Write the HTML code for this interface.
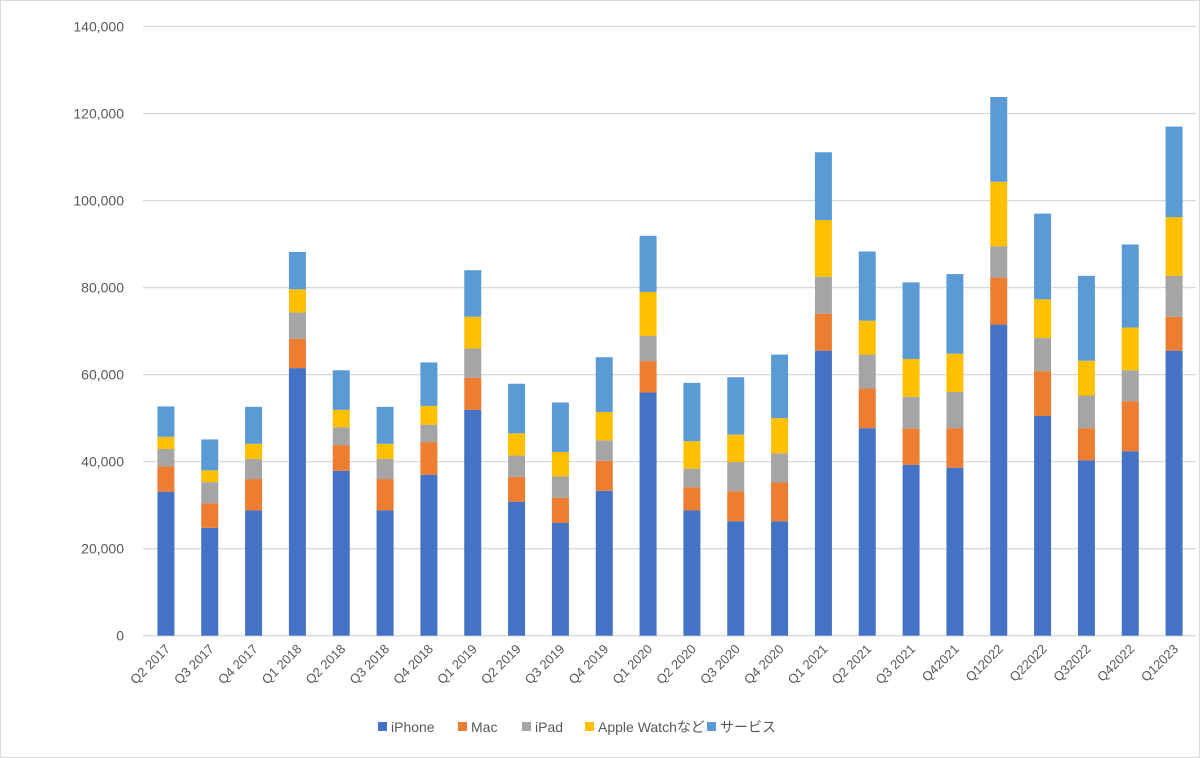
<!DOCTYPE html>
<html><head><meta charset="utf-8"><style>
html,body{margin:0;padding:0;background:#fff;}
svg{display:block;font-family:"Liberation Sans","Noto Sans CJK JP",sans-serif;}
</style></head><body>
<svg id="chart" width="1200" height="758" viewBox="0 0 1200 758">
<rect x="0.5" y="0.5" width="1199" height="757" fill="#fff" stroke="#d9d9d9"/>
<g id="grid"></g>
<g id="yt"></g>
<g id="bars"></g>
<g id="xt"></g>
<g id="legend"></g>
</svg>
<script>
const categories=["Q2 2017","Q3 2017","Q4 2017","Q1 2018","Q2 2018","Q3 2018","Q4 2018","Q1 2019","Q2 2019","Q3 2019","Q4 2019","Q1 2020","Q2 2020","Q3 2020","Q4 2020","Q1 2021","Q2 2021","Q3 2021","Q42021","Q12022","Q22022","Q32022","Q42022","Q12023"];
const iphone=[33.1,24.8,28.8,61.5,37.9,28.8,37.0,51.9,30.8,25.9,33.3,55.9,28.8,26.3,26.3,65.5,47.7,39.3,38.6,71.5,50.5,40.3,42.4,65.5];
const mac=[5.8,5.6,7.2,6.7,5.9,7.2,7.5,7.4,5.7,5.8,6.9,7.2,5.3,6.9,8.9,8.5,9.1,8.3,9.1,10.8,10.3,7.4,11.5,7.8];
const ipad=[4.0,4.9,4.6,6.1,4.1,4.6,4.0,6.7,4.9,4.9,4.7,5.8,4.3,6.7,6.7,8.5,7.8,7.3,8.3,7.2,7.6,7.5,7.1,9.4];
const watch=[2.8,2.7,3.5,5.3,4.0,3.5,4.3,7.3,5.1,5.6,6.5,10.1,6.3,6.3,8.1,13.0,7.8,8.7,8.8,14.8,8.9,8.0,9.8,13.5];
const services=[7.0,7.1,8.5,8.6,9.1,8.5,10.0,10.7,11.4,11.4,12.6,12.9,13.4,13.2,14.6,15.6,15.9,17.6,18.3,19.5,19.7,19.5,19.1,20.8];
const seriesNames=["iPhone","Mac","iPad","Apple Watchなど","サービス"];
const yTicks=[0,20000,40000,60000,80000,100000,120000,140000];
const colors=["#4472c4","#ed7d31","#a5a5a5","#ffc000","#5b9bd5"];
const NS="http://www.w3.org/2000/svg";
const x0=144,x1=1196,y0=635.7,yTop=26.5,yMax=140000;
const band=(x1-x0)/categories.length, bw=17;
function yS(v){return y0-(v/yMax)*(y0-yTop);}
function xC(i){return x0+band*(i+0.5);}
function mk(t,a,p){const e=document.createElementNS(NS,t);for(const k in a)e.setAttribute(k,a[k]);p.appendChild(e);return e;}
const grid=document.getElementById('grid'),yt=document.getElementById('yt');
yTicks.forEach(v=>{
 const l=mk('line',{x1:x0-1,x2:x1,y1:yS(v),y2:yS(v),stroke:'#d9d9d9','stroke-width':1.3},grid);
 
 
 const t=mk('text',{x:124,y:yS(v)+5,'text-anchor':'end','font-size':14,fill:'#595959'},yt);
 t.textContent=v.toLocaleString('en-US');
 
 
});
const series=[iphone,mac,ipad,watch,services];
const bars=document.getElementById('bars'),xt=document.getElementById('xt');
categories.forEach((c,i)=>{
 let cum=0;
 series.forEach((s,k)=>{
  const v=s[i]*1000;const yT=yS(cum+v),yB=yS(cum);cum+=v;
  const r=mk('rect',{x:xC(i)-bw/2,y:yT,width:bw,height:yB-yT,fill:colors[k]},bars);
  
  
 });
 const t=mk('text',{x:0,y:0,'text-anchor':'end','font-size':13,fill:'#595959',transform:`translate(${xC(i)+5},${y0+14}) rotate(-45)`},xt);
 t.textContent=c;
 
 
});
const lg=document.getElementById('legend');
const lx=[378,458,522,585,707];
seriesNames.forEach((n,k)=>{
 const g=mk('g',{},lg);
 
 
 mk('rect',{x:lx[k],y:722,width:9,height:9,fill:colors[k]},g);
 const t=mk('text',{x:lx[k]+13,y:732,'font-size':14,fill:'#595959'},g);
 t.textContent=n;
});
</script>
</body></html>
